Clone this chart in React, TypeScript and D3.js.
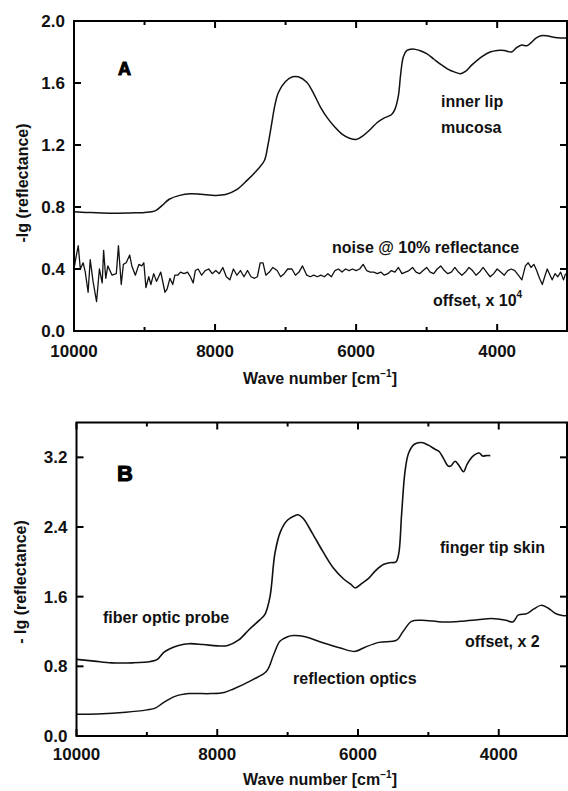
import React from "react";
import * as d3 from "d3";

// ---------- data ----------
// Panel A: inner lip mucosa spectrum  [wavenumber, -lg(reflectance)]
const innerLipWave = [10000, 9800, 9500, 9200, 9000, 8850, 8750, 8650, 8500, 8350, 8200, 8000, 7850, 7700, 7550, 7400, 7300, 7250, 7200, 7150, 7100, 7000, 6900, 6820, 6700, 6600, 6500, 6400, 6300, 6200, 6100, 6000, 5900, 5800, 5700, 5600, 5500, 5450, 5400, 5370, 5330, 5280, 5200, 5100, 5000, 4900, 4800, 4700, 4600, 4520, 4450, 4350, 4200, 4100, 4000, 3900, 3800, 3720, 3650, 3580, 3520, 3450, 3380, 3300, 3200, 3100, 3010];
const innerLipValue = [0.77, 0.765, 0.76, 0.762, 0.765, 0.775, 0.81, 0.85, 0.875, 0.885, 0.882, 0.875, 0.88, 0.91, 0.97, 1.04, 1.1, 1.2, 1.33, 1.46, 1.54, 1.61, 1.64, 1.64, 1.605, 1.53, 1.44, 1.37, 1.315, 1.27, 1.245, 1.235, 1.26, 1.3, 1.345, 1.375, 1.395, 1.43, 1.52, 1.65, 1.77, 1.81, 1.82, 1.81, 1.79, 1.755, 1.72, 1.69, 1.67, 1.66, 1.675, 1.72, 1.775, 1.8, 1.81, 1.81, 1.8, 1.83, 1.845, 1.84, 1.86, 1.89, 1.905, 1.905, 1.895, 1.89, 1.89];

// Panel A: noise @ 10% reflectance (offset, x 10^4)
const noiseWave = [10000, 9970, 9940, 9910, 9870, 9840, 9800, 9770, 9730, 9680, 9640, 9600, 9580, 9550, 9520, 9460, 9400, 9370, 9330, 9300, 9260, 9210, 9180, 9130, 9080, 9040, 9010, 8980, 8940, 8910, 8870, 8830, 8770, 8710, 8680, 8640, 8600, 8570, 8530, 8490, 8440, 8390, 8350, 8310, 8280, 8240, 8190, 8140, 8090, 8040, 7990, 7940, 7890, 7840, 7790, 7740, 7690, 7640, 7590, 7540, 7490, 7440, 7400, 7360, 7320, 7280, 7230, 7180, 7120, 7070, 7020, 6970, 6910, 6860, 6810, 6760, 6700, 6650, 6600, 6550, 6500, 6450, 6400, 6350, 6300, 6250, 6200, 6150, 6100, 6050, 6000, 5950, 5900, 5850, 5800, 5750, 5700, 5650, 5600, 5550, 5500, 5450, 5400, 5350, 5300, 5250, 5200, 5150, 5100, 5050, 5000, 4950, 4900, 4850, 4800, 4750, 4700, 4650, 4600, 4550, 4500, 4450, 4400, 4350, 4300, 4250, 4200, 4150, 4100, 4050, 4000, 3950, 3900, 3850, 3800, 3750, 3700, 3650, 3600, 3560, 3520, 3480, 3440, 3400, 3360, 3320, 3290, 3250, 3220, 3180, 3140, 3100, 3060, 3030];
const noiseValue = [0.4, 0.48, 0.55, 0.4, 0.44, 0.38, 0.25, 0.46, 0.32, 0.19, 0.4, 0.31, 0.52, 0.34, 0.42, 0.36, 0.37, 0.55, 0.3, 0.43, 0.44, 0.49, 0.42, 0.36, 0.43, 0.42, 0.44, 0.28, 0.35, 0.3, 0.37, 0.32, 0.38, 0.25, 0.27, 0.34, 0.3, 0.36, 0.36, 0.38, 0.37, 0.38, 0.35, 0.31, 0.39, 0.4, 0.36, 0.39, 0.4, 0.37, 0.39, 0.37, 0.41, 0.35, 0.33, 0.4, 0.36, 0.39, 0.35, 0.39, 0.35, 0.34, 0.35, 0.44, 0.44, 0.36, 0.38, 0.41, 0.39, 0.35, 0.37, 0.4, 0.4, 0.36, 0.38, 0.42, 0.36, 0.35, 0.36, 0.35, 0.36, 0.35, 0.37, 0.35, 0.39, 0.4, 0.38, 0.4, 0.39, 0.4, 0.39, 0.4, 0.43, 0.39, 0.38, 0.38, 0.37, 0.38, 0.36, 0.37, 0.39, 0.38, 0.41, 0.37, 0.38, 0.39, 0.41, 0.38, 0.37, 0.39, 0.41, 0.38, 0.37, 0.4, 0.42, 0.39, 0.37, 0.38, 0.41, 0.38, 0.36, 0.38, 0.41, 0.39, 0.36, 0.38, 0.41, 0.38, 0.35, 0.37, 0.4, 0.38, 0.36, 0.39, 0.4, 0.39, 0.36, 0.33, 0.42, 0.44, 0.41, 0.43, 0.39, 0.34, 0.3, 0.36, 0.4, 0.36, 0.33, 0.37, 0.35, 0.38, 0.33, 0.37];

// Panel B: finger tip skin, fiber optic probe
const fingerWave = [10000, 9750, 9500, 9200, 8950, 8850, 8760, 8680, 8550, 8400, 8200, 8000, 7850, 7700, 7550, 7400, 7320, 7250, 7180, 7100, 7000, 6900, 6850, 6780, 6650, 6500, 6350, 6200, 6100, 6040, 5950, 5850, 5750, 5640, 5550, 5460, 5420, 5380, 5330, 5280, 5200, 5100, 5000, 4900, 4850, 4780, 4720, 4680, 4620, 4560, 4500, 4450, 4370, 4280, 4230, 4180, 4120];
const fingerValue = [0.88, 0.86, 0.84, 0.84, 0.855, 0.88, 0.96, 1.0, 1.04, 1.06, 1.05, 1.035, 1.04, 1.1, 1.22, 1.33, 1.4, 1.6, 2.1, 2.35, 2.48, 2.53, 2.54, 2.5, 2.33, 2.12, 1.93, 1.8, 1.74, 1.7, 1.75, 1.81, 1.9, 1.97, 1.99, 2.0, 2.1, 2.55, 3.05, 3.25, 3.35, 3.37, 3.34, 3.29, 3.27, 3.18, 3.1, 3.1, 3.155, 3.1, 3.035, 3.12, 3.21, 3.25, 3.215, 3.22, 3.22];

// Panel B: reflection optics (offset, x 2)
const reflWave = [10000, 9700, 9300, 9000, 8880, 8770, 8600, 8400, 8100, 7900, 7770, 7500, 7300, 7200, 7110, 7000, 6920, 6750, 6500, 6250, 6040, 5900, 5700, 5450, 5360, 5240, 5100, 4800, 4550, 4300, 4100, 3900, 3800, 3720, 3600, 3500, 3400, 3300, 3200, 3100, 3030];
const reflValue = [0.25, 0.253, 0.272, 0.3, 0.32, 0.38, 0.455, 0.487, 0.487, 0.5, 0.54, 0.645, 0.743, 0.93, 1.087, 1.14, 1.153, 1.14, 1.07, 1.01, 0.972, 1.02, 1.075, 1.1, 1.2, 1.317, 1.33, 1.31, 1.317, 1.335, 1.35, 1.33, 1.31, 1.39, 1.405, 1.46, 1.5, 1.47, 1.41, 1.385, 1.38];

// Axes ticks
const xMajorTicks = [10000, 8000, 6000, 4000];
const xMinorTicks = [9000, 7000, 5000];
const xTickLabels = ["10000", "8000", "6000", "4000"];
const yTicksA = [0, 0.4, 0.8, 1.2, 1.6, 2.0];
const yTicksB = [0, 0.8, 1.6, 2.4, 3.2];

const FONT = "'Liberation Sans', Arial, Helvetica, sans-serif";

type Series = { wave: number[]; value: number[]; smooth: boolean; width: number };

function zip(w: number[], v: number[]): [number, number][] {
  return w.map((x, i) => [x, v[i]]);
}

function Panel(props: {
  x0: number; x1: number; xEnd: number;
  yTop: number; yBot: number; yMax: number;
  yTicks: number[];
  series: Series[];
  tickLabelDy: number;
  children?: React.ReactNode;
}) {
  const { x0, x1, xEnd, yTop, yBot, yMax, yTicks, series, tickLabelDy } = props;
  const xs = d3.scaleLinear().domain([10000, xEnd]).range([x0, x1]);
  const ys = d3.scaleLinear().domain([0, yMax]).range([yBot, yTop]);
  const fmt = d3.format(".1f");
  return (
    <g>
      {series.map((s, i) => {
        const line = d3
          .line<[number, number]>()
          .x((d) => xs(d[0]))
          .y((d) => ys(d[1]))
          .curve(s.smooth ? d3.curveCatmullRom.alpha(0.5) : d3.curveLinear);
        return (
          <path key={i} d={line(zip(s.wave, s.value)) || ""} fill="none" stroke="#111" strokeWidth={s.width} strokeLinejoin="round" />
        );
      })}
      {/* frame */}
      <rect x={x0} y={yTop} width={x1 - x0} height={yBot - yTop} fill="none" stroke="#000" strokeWidth={2} />
      {/* x ticks */}
      {xMajorTicks.map((t) => (
        <g key={"M" + t}>
          <line x1={xs(t)} x2={xs(t)} y1={yBot} y2={yBot - 7} stroke="#000" strokeWidth={2} />
          <line x1={xs(t)} x2={xs(t)} y1={yTop} y2={yTop + 7} stroke="#000" strokeWidth={2} />
        </g>
      ))}
      {xMinorTicks.map((t) => (
        <g key={"m" + t}>
          <line x1={xs(t)} x2={xs(t)} y1={yBot} y2={yBot - 4} stroke="#000" strokeWidth={2} />
          <line x1={xs(t)} x2={xs(t)} y1={yTop} y2={yTop + 4} stroke="#000" strokeWidth={2} />
        </g>
      ))}
      {xMajorTicks.map((t, i) => (
        <text key={"xl" + t} x={xs(t)} y={yBot + tickLabelDy} textAnchor="middle" fontFamily={FONT} fontWeight="bold" fontSize={17} fill="#111">
          {xTickLabels[i]}
        </text>
      ))}
      {/* y ticks */}
      {yTicks.map((t) => (
        <g key={"y" + t}>
          {t > 0 && t < yMax && (
            <>
              <line x1={x0} x2={x0 + 7} y1={ys(t)} y2={ys(t)} stroke="#000" strokeWidth={2} />
              <line x1={x1} x2={x1 - 7} y1={ys(t)} y2={ys(t)} stroke="#000" strokeWidth={2} />
            </>
          )}
          <text x={x0 - 9} y={ys(t)} dy="0.36em" textAnchor="end" fontFamily={FONT} fontWeight="bold" fontSize={17} fill="#111">
            {fmt(t)}
          </text>
        </g>
      ))}
      {props.children}
    </g>
  );
}

const txt = { fontFamily: FONT, fontWeight: "bold" as const, fontSize: 16, fill: "#111" };

export default function App() {
  return (
    <svg width={568} height={791} viewBox="0 0 568 791" style={{ position: "absolute", left: 0, top: 0, background: "#fff" }}>
      <rect x={0} y={0} width={568} height={791} fill="#fff" />
      {/* Panel A */}
      <Panel
        x0={74} x1={567} xEnd={3010}
        yTop={21} yBot={331} yMax={2.0}
        yTicks={yTicksA}
        tickLabelDy={26}
        series={[
          { wave: innerLipWave, value: innerLipValue, smooth: true, width: 1.5 },
          { wave: noiseWave, value: noiseValue, smooth: false, width: 1.3 },
        ]}
      >
        <text x={118} y={75} fontFamily={FONT} fontWeight={900} fontSize={18} stroke="#000" strokeWidth={1} fill="#000">A</text>
        <text x={441} y={107} {...txt}>inner lip</text>
        <text x={441} y={133} {...txt}>mucosa</text>
        <text x={332} y={253} {...txt}>noise @ 10% reflectance</text>
        <text x={433} y={306} {...txt}>
          offset, x 10<tspan fontSize={10} dy={-8}>4</tspan>
        </text>
        <text x={320} y={384} textAnchor="middle" {...txt}>
          Wave number [cm<tspan fontSize={10} dy={-7}>−1</tspan><tspan dy={7}>]</tspan>
        </text>
        <text transform="translate(28,183) rotate(-90)" textAnchor="middle" {...txt}>-lg (reflectance)</text>
      </Panel>

      {/* Panel B */}
      <Panel
        x0={76.5} x1={567} xEnd={3030}
        yTop={422.5} yBot={736} yMax={3.6}
        yTicks={yTicksB}
        tickLabelDy={24}
        series={[
          { wave: fingerWave, value: fingerValue, smooth: true, width: 1.6 },
          { wave: reflWave, value: reflValue, smooth: true, width: 1.5 },
        ]}
      >
        <text x={117} y={481} fontFamily={FONT} fontWeight={900} fontSize={22} stroke="#000" strokeWidth={1} fill="#000">B</text>
        <text x={440} y={553} {...txt}>finger tip skin</text>
        <text x={103} y={623} {...txt}>fiber optic probe</text>
        <text x={465} y={647} {...txt}>offset, x 2</text>
        <text x={293} y={684} {...txt}>reflection optics</text>
        <text x={320} y={785} textAnchor="middle" {...txt}>
          Wave number [cm<tspan fontSize={10} dy={-7}>−1</tspan><tspan dy={7}>]</tspan>
        </text>
        <text transform="translate(26,582) rotate(-90)" textAnchor="middle" {...txt}>- lg (reflectance)</text>
      </Panel>
    </svg>
  );
}
